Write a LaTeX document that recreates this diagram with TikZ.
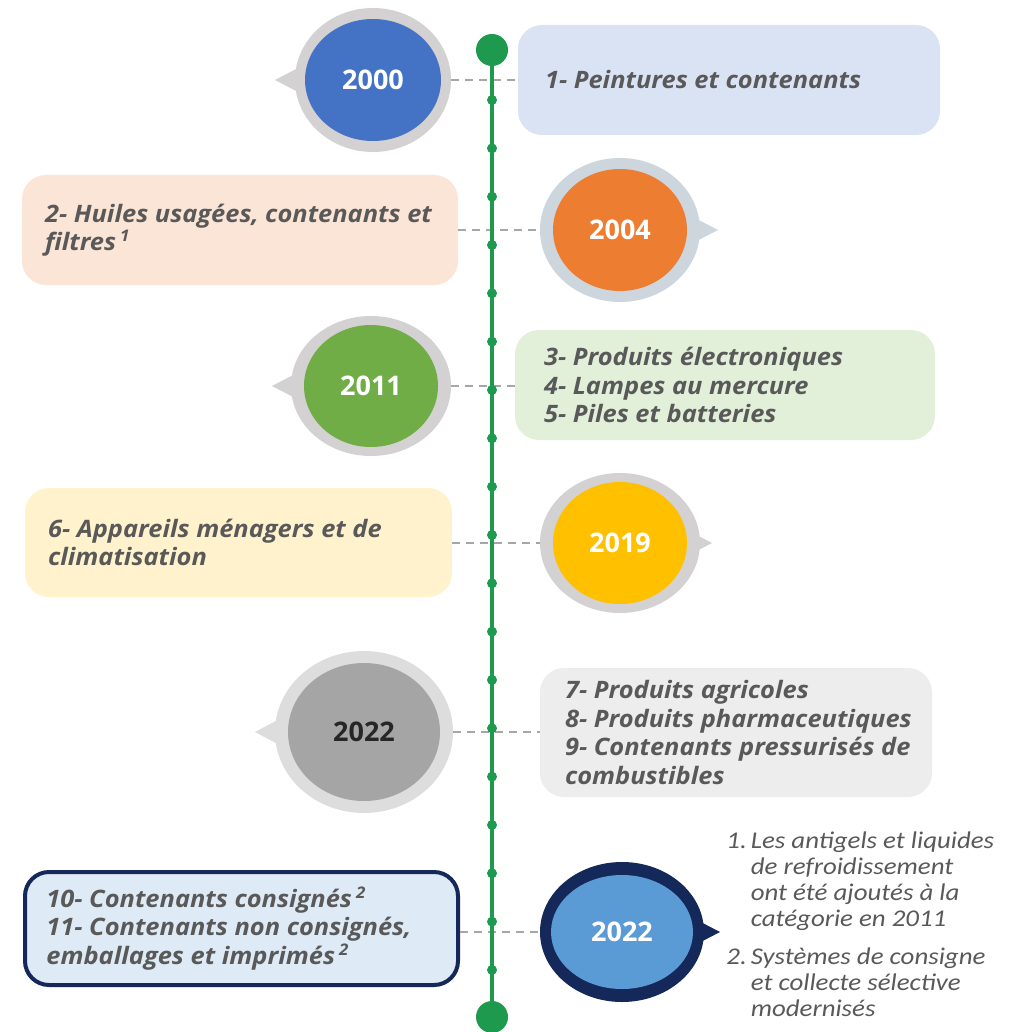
\documentclass[tikz,border=0pt]{standalone}
\usepackage{fontspec}
\setmainfont{Open Sans}
\newfontfamily\itemfont[FakeStretch=1.06]{Open Sans}
\newfontfamily\notefont[FakeStretch=1.12]{Carlito}
\usetikzlibrary{shapes.geometric,positioning}

\definecolor{linegreen}{HTML}{1E9A4E}
\definecolor{dashgray}{HTML}{A6A6A6}
\definecolor{textgray}{HTML}{595959}
\definecolor{ringgray}{HTML}{D3D1D1}
\definecolor{ringblue}{HTML}{CDD5DD}
\definecolor{ringlight}{HTML}{DDDDDD}
\definecolor{navy}{HTML}{14285A}
\definecolor{yblue}{HTML}{4472C4}
\definecolor{yorange}{HTML}{ED7D31}
\definecolor{ygreen}{HTML}{70AD47}
\definecolor{ygold}{HTML}{FFC000}
\definecolor{ygray}{HTML}{A5A5A5}
\definecolor{ysky}{HTML}{5B9BD5}
\definecolor{boxlav}{HTML}{DAE3F3}
\definecolor{boxpeach}{HTML}{FBE5D6}
\definecolor{boxgreen}{HTML}{E2F0D9}
\definecolor{boxcream}{HTML}{FFF2CC}
\definecolor{boxgray}{HTML}{EDEDED}
\definecolor{boxsky}{HTML}{DEEBF7}

\tikzset{
  ring/.style={ellipse, inner sep=0pt},
  yeardisc/.style={ellipse, inner sep=0pt, text=white,
    font=\bfseries\fontsize{13.5}{14}\selectfont},
  itembox/.style={rounded corners=12pt, inner sep=0pt},
  itemtext/.style={anchor=west, inner sep=0pt, align=left,
    text=textgray, font=\itemfont\bfseries\itshape\fontsize{12}{14.2}\selectfont},
  link/.style={draw=dashgray, line width=1pt, dash pattern=on 4pt off 3pt},
  tick/.style={circle, fill=linegreen, inner sep=0pt, minimum size=5pt},
  endpt/.style={circle, fill=linegreen, inner sep=0pt, minimum size=16pt},
}

\begin{document}
\begin{tikzpicture}[x=0.5pt,y=-0.5pt]
  \useasboundingbox (0,0) rectangle (1022,1032);

  % pointers of the year bubbles
  \fill[ringgray] (275,80) -- ++(27,-14) -- ++(0,28) -- cycle;
  \fill[ringblue] (718,230) -- ++(-27,-14) -- ++(0,28) -- cycle;
  \fill[ringgray] (272,386) -- ++(27,-14) -- ++(0,28) -- cycle;
  \fill[ringgray] (712,543) -- ++(-27,-14) -- ++(0,28) -- cycle;
  \fill[ringlight] (255,732) -- ++(30,-16) -- ++(0,32) -- cycle;
  \fill[navy] (720,932) -- ++(-27,-14) -- ++(0,28) -- cycle;

  % year bubbles
  \node[ring, fill=ringgray, minimum width=78pt, minimum height=72pt] (r2000) at (373,80) {};
  \node[yeardisc, fill=yblue, minimum width=68pt, minimum height=61pt] (y2000) at (373,80) {2000};

  \node[ring, fill=ringblue, minimum width=80pt, minimum height=72pt] (r2004) at (620,230) {};
  \node[yeardisc, fill=yorange, minimum width=67pt, minimum height=61pt] (y2004) at (620,230) {2004};

  \node[ring, fill=ringgray, minimum width=80pt, minimum height=70pt] (r2011) at (371,386) {};
  \node[yeardisc, fill=ygreen, minimum width=67pt, minimum height=61pt] (y2011) at (371,386) {2011};

  \node[ring, fill=ringgray, minimum width=80pt, minimum height=70pt] (r2019) at (620,543) {};
  \node[yeardisc, fill=ygold, minimum width=67pt, minimum height=61pt] (y2019) at (620,543) {2019};

  \node[ring, fill=ringlight, minimum width=89pt, minimum height=81pt] (r2022a) at (364,732) {};
  \node[yeardisc, fill=ygray, text=black!85, minimum width=76pt, minimum height=69pt] (y2022a) at (364,732) {2022};

  \node[ring, fill=navy, minimum width=82pt, minimum height=70pt] (r2022b) at (622,932) {};
  \node[yeardisc, fill=ysky, minimum width=71pt, minimum height=57pt] (y2022b) at (622,932) {2022};

  % category boxes
  \node[itembox, fill=boxlav, minimum width=211pt, minimum height=55pt] (b1) at (729,80) {};
  \node[itembox, fill=boxpeach, minimum width=218pt, minimum height=55pt] (b2) at (240,230) {};
  \node[itembox, fill=boxgreen, minimum width=210pt, minimum height=55pt] (b3) at (725,385) {};
  \node[itembox, fill=boxcream, minimum width=213.5pt, minimum height=54.5pt] (b4) at (238.5,542.5) {};
  \node[itembox, fill=boxgray, minimum width=196pt, minimum height=64.5pt] (b5) at (736,732.5) {};
  \node[itembox, fill=boxsky, draw=navy, line width=2pt, minimum width=216.5pt, minimum height=56.5pt] (b6) at (241.5,928.5) {};

  \node[itemtext] (l1) at ([xshift=13.5pt]b1.west) {1- Peintures et contenants};
  \node[itemtext] (l2) at ([xshift=11.5pt]b2.west) {2- Huiles usagées, contenants et\\filtres\,\textsuperscript{1}};
  \node[itemtext] (l3) at ([xshift=14.5pt]b3.west) {3- Produits électroniques\\4- Lampes au mercure\\5- Piles et batteries};
  \node[itemtext] (l4) at ([xshift=11.5pt]b4.west) {6- Appareils ménagers et de\\climatisation};
  \node[itemtext] (l5) at ([xshift=12.5pt]b5.west) {7- Produits agricoles\\8- Produits pharmaceutiques\\9- Contenants pressurisés de\\combustibles};
  \node[itemtext] (l6) at ([xshift=11.5pt]b6.west) {10- Contenants consignés\,\textsuperscript{2}\\11- Contenants non consignés,\\emballages et imprimés\,\textsuperscript{2}};

  % dashed links
  \draw[link] (r2000.east) -- (b1.west);
  \draw[link] (b2.east) -- (r2004.west);
  \draw[link] (r2011.east) -- (b3.west |- r2011.east);
  \draw[link] (b4.east |- r2019.west) -- (r2019.west);
  \draw[link] (r2022a.east) -- (b5.west |- r2022a.east);
  \draw[link] (b6.east |- r2022b.west) -- (r2022b.west);

  % timeline
  \node[endpt] (top) at (492,50) {};
  \node[endpt] (bottom) at (492,1017) {};
  \draw[linegreen, line width=2pt] (top) -- (bottom);
  \foreach \i in {0,...,18}
    \node[tick] (t\i) at (492,100+48.33*\i) {};

  % footnotes
  \node[anchor=north west, inner sep=0pt, text=textgray, font=\notefont\itshape\fontsize{12}{13}\selectfont] (notes) at (726,830)
    {\begin{tabular}{@{}l@{\,}l@{}}
      1. & Les antigels et liquides\\
         & de refroidissement\\
         & ont été ajoutés à la\\
         & catégorie en 2011\\[6pt]
      2. & Systèmes de consigne\\
         & et collecte sélective\\
         & modernisés
    \end{tabular}};
\end{tikzpicture}
\end{document}
